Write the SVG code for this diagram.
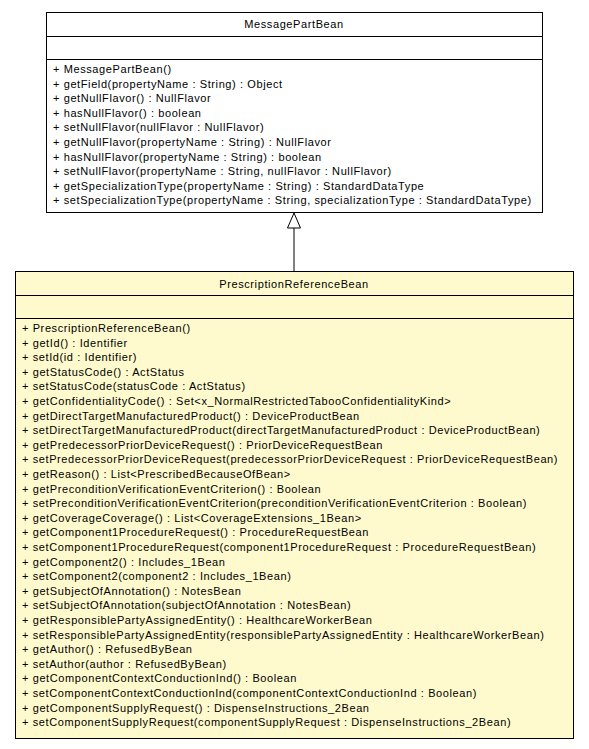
<svg xmlns="http://www.w3.org/2000/svg" width="589" height="749" viewBox="0 0 589 749">
<style>
.box{stroke:#000;stroke-width:1}
.sep{stroke:#000;stroke-width:1}
text{font-family:"Liberation Sans",Arial,sans-serif;font-size:11px;letter-spacing:0.6px;fill:#000}
.title{text-anchor:middle}
</style>
<rect width="589" height="749" fill="#fff"/>
<g id="connectors">
<line x1="294" y1="271" x2="294" y2="228" stroke="#000" stroke-width="1"/>
<polygon points="294,213 287.5,228 300.5,228" fill="#fff" stroke="#000" stroke-width="1"/>
</g>
<g id="MessagePartBean">
<rect class="box" x="46.5" y="12.5" width="496" height="200" fill="#fff"/>
<line class="sep" x1="46.5" y1="36.5" x2="542.5" y2="36.5"/>
<line class="sep" x1="46.5" y1="59.5" x2="542.5" y2="59.5"/>
<text class="title" x="294" y="28">MessagePartBean</text>
<text x="53" y="73">+ MessagePartBean()</text>
<text x="53" y="87.6">+ getField(propertyName : String) : Object</text>
<text x="53" y="102.2">+ getNullFlavor() : NullFlavor</text>
<text x="53" y="116.8">+ hasNullFlavor() : boolean</text>
<text x="53" y="131.4">+ setNullFlavor(nullFlavor : NullFlavor)</text>
<text x="53" y="146">+ getNullFlavor(propertyName : String) : NullFlavor</text>
<text x="53" y="160.6">+ hasNullFlavor(propertyName : String) : boolean</text>
<text x="53" y="175.2">+ setNullFlavor(propertyName : String, nullFlavor : NullFlavor)</text>
<text x="53" y="189.8">+ getSpecializationType(propertyName : String) : StandardDataType</text>
<text x="53" y="204.4">+ setSpecializationType(propertyName : String, specializationType : StandardDataType)</text>
</g>
<g id="PrescriptionReferenceBean">
<rect class="box" x="15.5" y="271.5" width="558" height="467" fill="#fffacd"/>
<line class="sep" x1="15.5" y1="295.5" x2="573.5" y2="295.5"/>
<line class="sep" x1="15.5" y1="318.5" x2="573.5" y2="318.5"/>
<text class="title" x="294" y="288">PrescriptionReferenceBean</text>
<text x="22" y="332">+ PrescriptionReferenceBean()</text>
<text x="22" y="346.6">+ getId() : Identifier</text>
<text x="22" y="361.2">+ setId(id : Identifier)</text>
<text x="22" y="375.8">+ getStatusCode() : ActStatus</text>
<text x="22" y="390.4">+ setStatusCode(statusCode : ActStatus)</text>
<text x="22" y="405">+ getConfidentialityCode() : Set&lt;x_NormalRestrictedTabooConfidentialityKind&gt;</text>
<text x="22" y="419.6">+ getDirectTargetManufacturedProduct() : DeviceProductBean</text>
<text x="22" y="434.2">+ setDirectTargetManufacturedProduct(directTargetManufacturedProduct : DeviceProductBean)</text>
<text x="22" y="448.8">+ getPredecessorPriorDeviceRequest() : PriorDeviceRequestBean</text>
<text x="22" y="463.4">+ setPredecessorPriorDeviceRequest(predecessorPriorDeviceRequest : PriorDeviceRequestBean)</text>
<text x="22" y="478">+ getReason() : List&lt;PrescribedBecauseOfBean&gt;</text>
<text x="22" y="492.6">+ getPreconditionVerificationEventCriterion() : Boolean</text>
<text x="22" y="507.2">+ setPreconditionVerificationEventCriterion(preconditionVerificationEventCriterion : Boolean)</text>
<text x="22" y="521.8">+ getCoverageCoverage() : List&lt;CoverageExtensions_1Bean&gt;</text>
<text x="22" y="536.4">+ getComponent1ProcedureRequest() : ProcedureRequestBean</text>
<text x="22" y="551">+ setComponent1ProcedureRequest(component1ProcedureRequest : ProcedureRequestBean)</text>
<text x="22" y="565.6">+ getComponent2() : Includes_1Bean</text>
<text x="22" y="580.2">+ setComponent2(component2 : Includes_1Bean)</text>
<text x="22" y="594.8">+ getSubjectOfAnnotation() : NotesBean</text>
<text x="22" y="609.4">+ setSubjectOfAnnotation(subjectOfAnnotation : NotesBean)</text>
<text x="22" y="624">+ getResponsiblePartyAssignedEntity() : HealthcareWorkerBean</text>
<text x="22" y="638.6">+ setResponsiblePartyAssignedEntity(responsiblePartyAssignedEntity : HealthcareWorkerBean)</text>
<text x="22" y="653.2">+ getAuthor() : RefusedByBean</text>
<text x="22" y="667.8">+ setAuthor(author : RefusedByBean)</text>
<text x="22" y="682.4">+ getComponentContextConductionInd() : Boolean</text>
<text x="22" y="697">+ setComponentContextConductionInd(componentContextConductionInd : Boolean)</text>
<text x="22" y="711.6">+ getComponentSupplyRequest() : DispenseInstructions_2Bean</text>
<text x="22" y="726.2">+ setComponentSupplyRequest(componentSupplyRequest : DispenseInstructions_2Bean)</text>
</g>
</svg>
